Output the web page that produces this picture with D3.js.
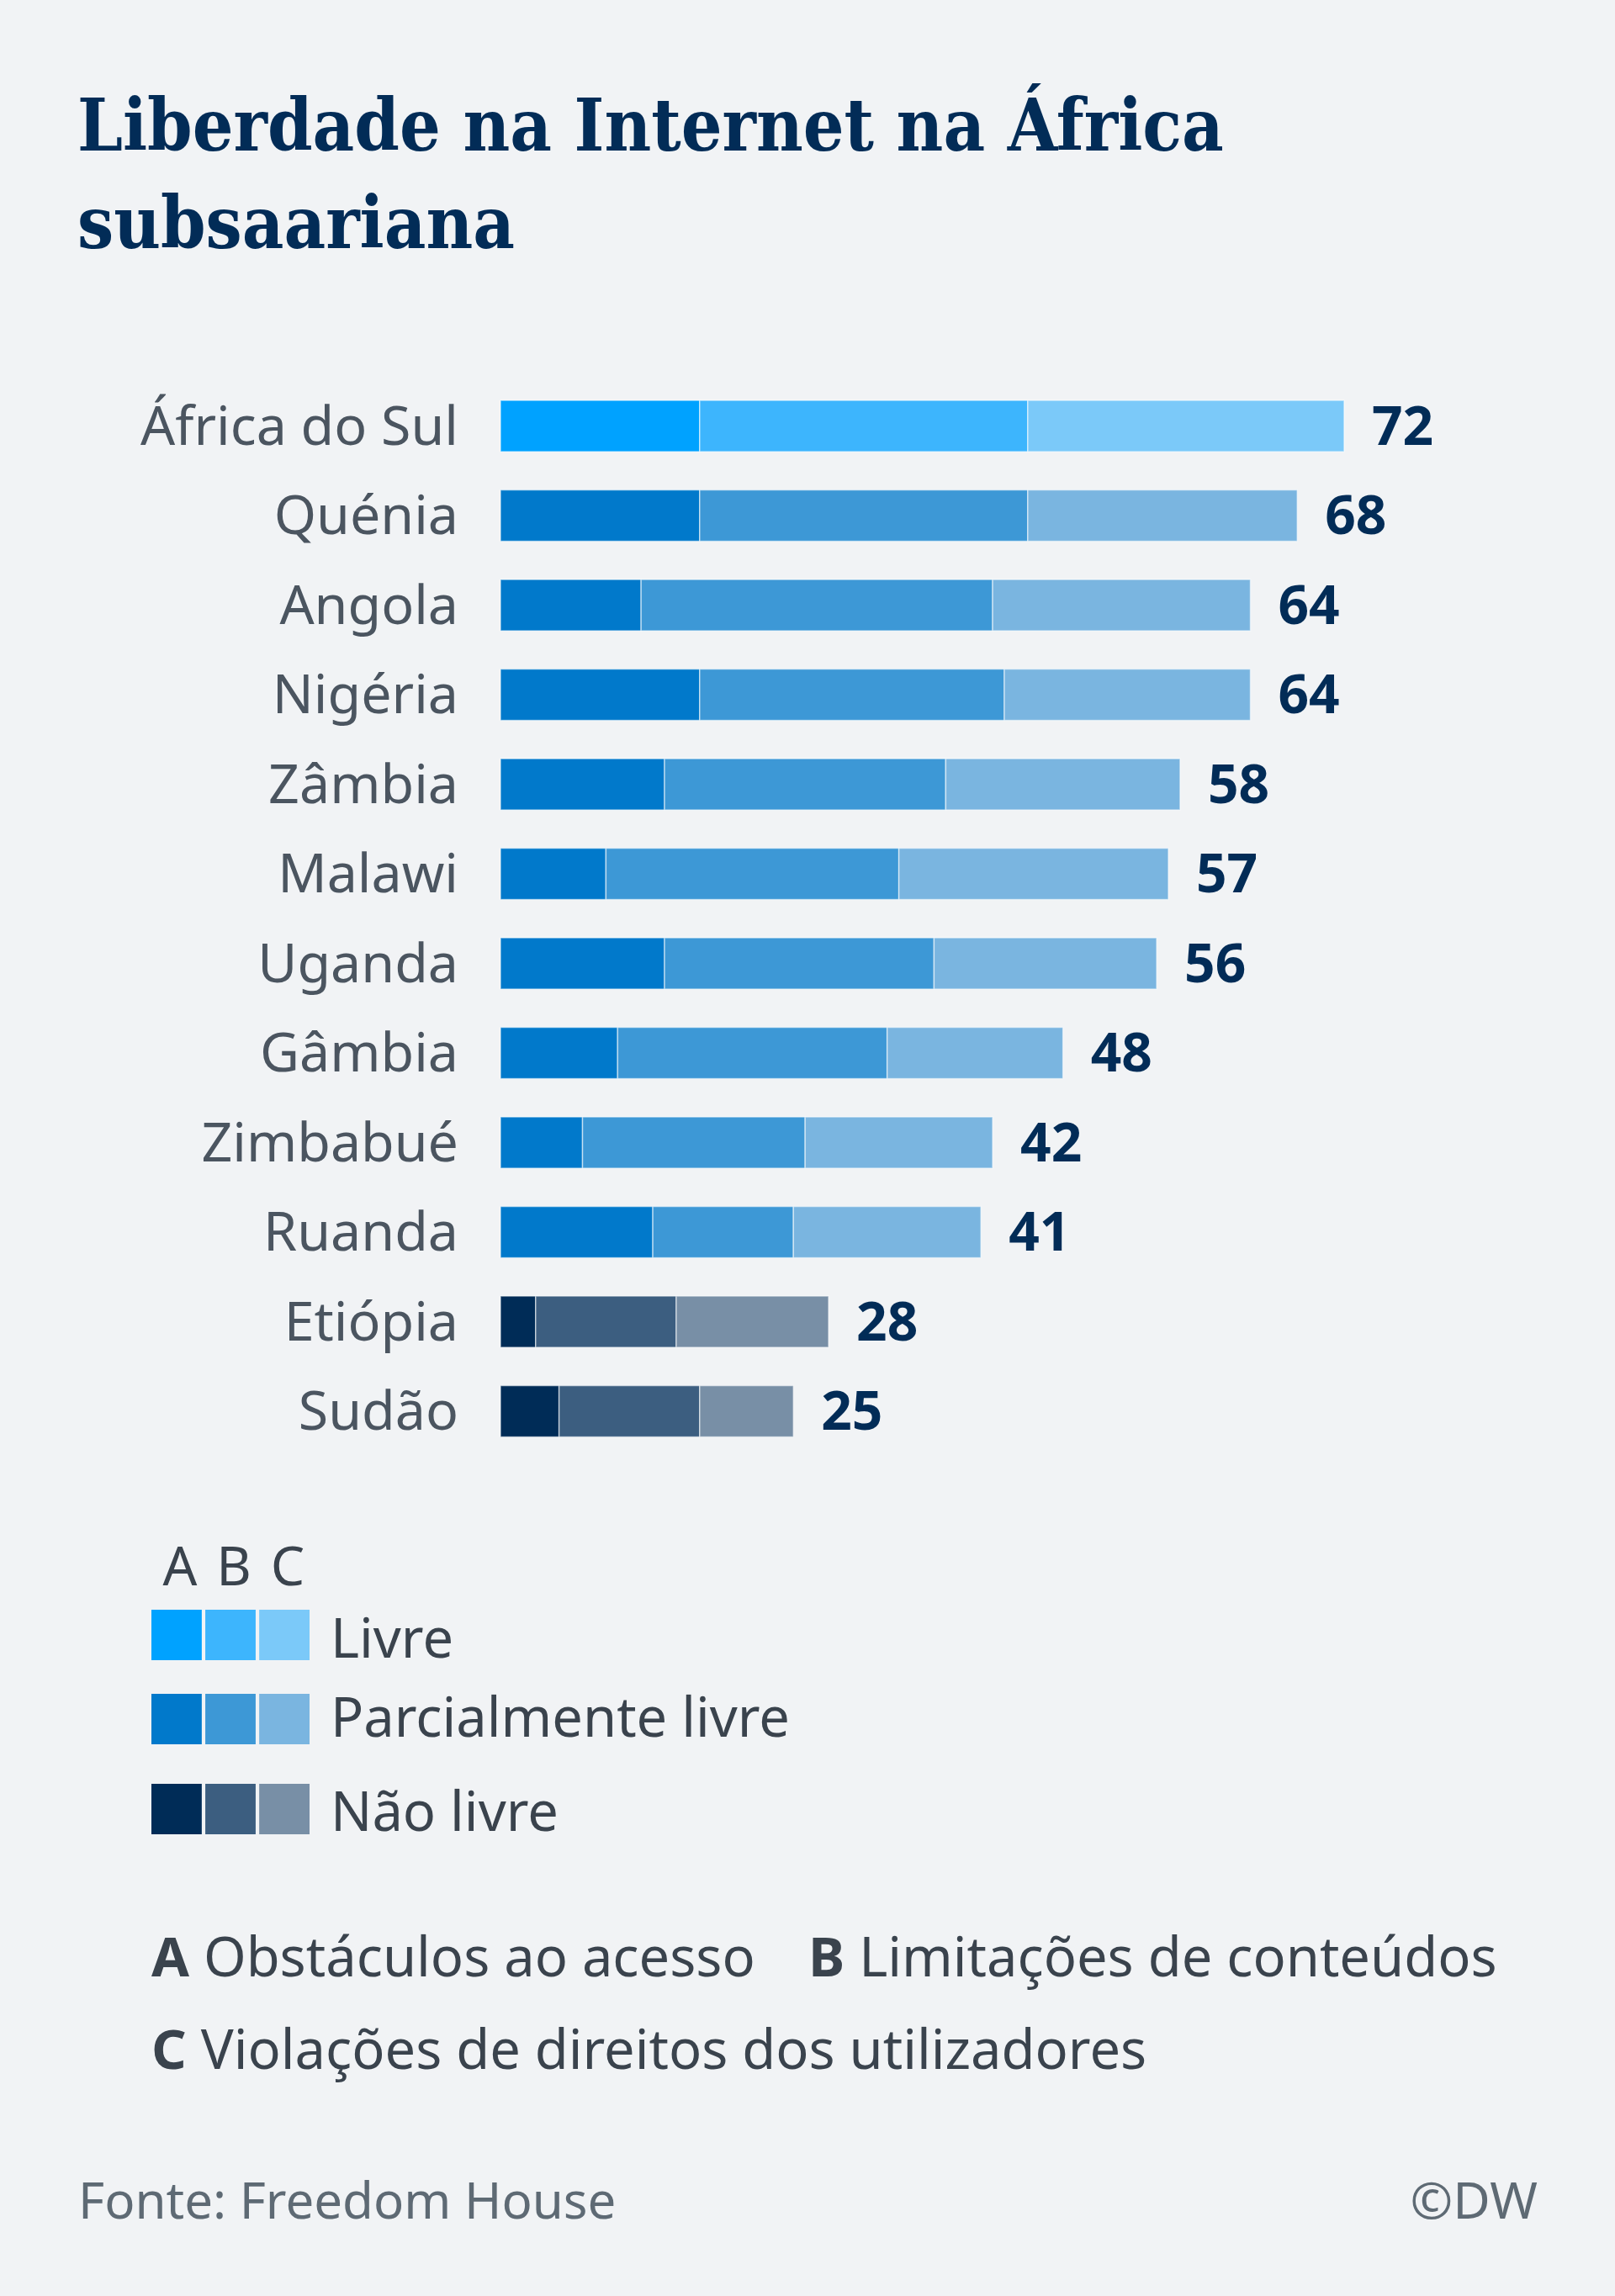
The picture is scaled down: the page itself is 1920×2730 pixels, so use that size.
<!DOCTYPE html>
<html>
<head>
<meta charset="utf-8">
<script src="https://cdn.jsdelivr.net/npm/d3@7/dist/d3.min.js"></script>
<style>
  html, body { margin: 0; padding: 0; background: #f1f3f5; }
  svg { display: block; }
</style>
</head>
<body>
<script>
// ---- Data ----
const titleLines = ["Liberdade na Internet na África", "subsaariana"];
const countries = ["África do Sul", "Quénia", "Angola", "Nigéria", "Zâmbia", "Malawi", "Uganda", "Gâmbia", "Zimbabué", "Ruanda", "Etiópia", "Sudão"];
const scoreA = [17, 17, 12, 17, 14, 9, 14, 10, 7, 13, 3, 5];   // Obstáculos ao acesso
const scoreB = [28, 28, 30, 26, 24, 25, 23, 23, 19, 12, 12, 12]; // Limitações de conteúdos
const scoreC = [27, 23, 22, 21, 20, 23, 19, 15, 16, 16, 13, 8];  // Violações de direitos dos utilizadores
const totals = [72, 68, 64, 64, 58, 57, 56, 48, 42, 41, 28, 25];
const status = [0, 1, 1, 1, 1, 1, 1, 1, 1, 1, 2, 2]; // 0 Livre, 1 Parcialmente livre, 2 Não livre
const statusLabels = ["Livre", "Parcialmente livre", "Não livre"];
const componentLetters = ["A", "B", "C"];
const componentNames = ["Obstáculos ao acesso", "Limitações de conteúdos", "Violações de direitos dos utilizadores"];
const sourceText = "Fonte: Freedom House";
const creditText = "©DW";

// ---- Styles ----
const palette = [
  ["#00a2ff", "#3db5fd", "#7bc9f9"],
  ["#0179cb", "#3d98d6", "#7ab5e0"],
  ["#002c57", "#3c5e80", "#788fa6"]
];
const W = 1920, H = 2730;
const bg = "#f1f3f5";
const navy = "#022c57";
const labelGray = "#4b5560";
const textDark = "#3a434d";
const sourceGray = "#5e6a74";
const sans = "'Noto Sans', 'Open Sans', sans-serif";

const svg = d3.select("body").append("svg")
  .attr("width", W).attr("height", H)
  .style("background", bg);

svg.append("rect").attr("width", W).attr("height", H).attr("fill", bg);

// ---- Title ----
const title = svg.append("g");
const tl = title.selectAll("text").data(titleLines).join("text")
  .attr("x", 92)
  .attr("y", (d, i) => 179 + i * 116)
  .attr("fill", navy)
  .style("font-family", "'DejaVu Serif', serif")
  .style("font-stretch", "condensed")
  .style("font-weight", 700)
  .style("font-size", "84px")
  .text(d => d);
// fit first line to reference width
const w0 = tl.nodes()[0].getComputedTextLength();
const fs = 84 * 1363 / w0;
tl.style("font-size", fs + "px");

// ---- Scales ----
const x = d3.scaleLinear().domain([0, 100]).range([595, 595 + 1393]);
const y = d3.scaleBand().domain(countries).range([453.3, 1731.3]).paddingInner(0.427).paddingOuter(0.2135);

const rows = countries.map((c, i) => {
  const vals = [scoreA[i], scoreB[i], scoreC[i]];
  let acc = 0;
  const segs = vals.map((v, k) => {
    const s = { country: c, k, x0: acc, x1: acc + v, color: palette[status[i]][k] };
    acc += v;
    return s;
  });
  return { country: c, total: totals[i], segs, end: acc };
});

const chart = svg.append("g");
const row = chart.selectAll("g.row").data(rows).join("g").attr("class", "row");

row.selectAll("rect").data(d => d.segs).join("rect")
  .attr("x", d => x(d.x0))
  .attr("y", d => y(d.country))
  .attr("width", d => x(d.x1) - x(d.x0))
  .attr("height", y.bandwidth())
  .attr("fill", d => d.color)
  .attr("stroke", "#ffffff")
  .attr("stroke-opacity", 0.55)
  .attr("stroke-width", 1.5);

row.append("text")
  .attr("x", 545)
  .attr("y", d => y(d.country) + y.bandwidth() / 2 + 22)
  .attr("text-anchor", "end")
  .attr("fill", labelGray)
  .style("font-family", sans)
  .style("font-size", "64.5px")
  .text(d => d.country);

row.append("text")
  .attr("x", d => x(d.end) + 33)
  .attr("y", d => y(d.country) + y.bandwidth() / 2 + 22)
  .attr("fill", navy)
  .style("font-family", sans)
  .style("font-weight", 700)
  .style("font-size", "64px")
  .text(d => d.total);

// ---- Legend ----
const legend = svg.append("g");
const swX = d3.scaleBand().domain(componentLetters).range([180, 368]).paddingInner(0.066);
legend.selectAll("text.hdr").data(componentLetters).join("text")
  .attr("class", "hdr")
  .attr("x", d => swX(d) + swX.bandwidth() / 2 + 4)
  .attr("y", 1885)
  .attr("text-anchor", "middle")
  .attr("fill", textDark)
  .style("font-family", sans)
  .style("font-size", "64px")
  .text(d => d);

const legRowY = [1914, 2014, 2121];
const lrow = legend.selectAll("g.lrow").data(statusLabels).join("g").attr("class", "lrow")
  .attr("transform", (d, i) => `translate(0,${legRowY[i]})`);
lrow.selectAll("rect").data((d, i) => palette[i].map((c, k) => ({ c, k: componentLetters[k] }))).join("rect")
  .attr("x", d => swX(d.k))
  .attr("y", 0)
  .attr("width", swX.bandwidth())
  .attr("height", 60)
  .attr("fill", d => d.c);
lrow.append("text")
  .attr("x", 393)
  .attr("y", (d, i) => [57, 51, 56][i])
  .attr("fill", textDark)
  .style("font-family", sans)
  .style("font-size", "65px")
  .text(d => d);

// ---- Component explanations ----
const notePos = [[180, 2350], [961, 2350], [180, 2460]];
const notes = svg.append("g").selectAll("text").data(componentLetters).join("text")
  .attr("x", (d, i) => notePos[i][0])
  .attr("y", (d, i) => notePos[i][1])
  .attr("fill", textDark)
  .style("font-family", sans)
  .style("font-size", "65px");
notes.append("tspan").style("font-weight", 700).text(d => d);
notes.append("tspan").text((d, i) => " " + componentNames[i]);

// ---- Source ----
svg.append("text")
  .attr("x", 93).attr("y", 2638)
  .attr("fill", sourceGray)
  .style("font-family", sans)
  .style("font-size", "60px")
  .text(sourceText);
svg.append("text")
  .attr("x", 1828).attr("y", 2638)
  .attr("text-anchor", "end")
  .attr("fill", sourceGray)
  .style("font-family", sans)
  .style("font-size", "61px")
  .text(creditText);
</script>
</body>
</html>
